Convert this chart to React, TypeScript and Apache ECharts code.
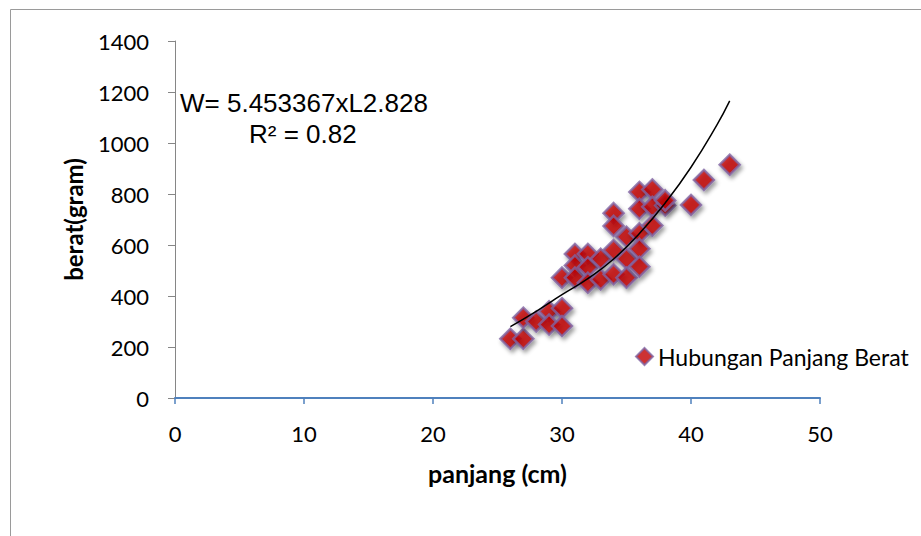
import React, { useEffect, useRef } from "react";
import * as echarts from "echarts";

// Observed data: panjang (cm) vs berat (gram)
const panjang = [26, 27, 27, 28, 29, 29, 30, 30, 30, 31, 31, 31, 32, 32, 32, 33, 33, 34, 34, 34, 34, 35, 35, 35, 36, 36, 36, 36, 36, 37, 37, 37, 38, 38, 40, 41, 43];
const berat = [232, 232, 315, 300, 340, 288, 352, 282, 472, 565, 520, 472, 565, 513, 452, 546, 465, 725, 675, 580, 485, 632, 546, 472, 808, 742, 646, 585, 515, 818, 750, 676, 755, 775, 757, 855, 915];

// Trend line
const trendX = [26, 28, 30, 32, 34, 36, 38, 40, 42, 43];
const trendY = [280, 340, 405, 468, 545, 645, 765, 905, 1070, 1165];

const seriesName = "Hubungan Panjang Berat";
const xAxisTitle = "panjang (cm)";
const yAxisTitle = "berat(gram)";
const equationText = "W= 5.453367xL2.828";
const r2Text = "R² = 0.82";

export default function App() {
  const ref = useRef<HTMLDivElement>(null);
  useEffect(() => {
    if (!ref.current) return;
    const chart = echarts.init(ref.current, undefined, { renderer: "svg" });
    const font = "Lato, 'Open Sans', sans-serif";
    chart.setOption({
      animation: false,
      backgroundColor: "#ffffff",
      grid: { left: 175, right: 101, top: 41, bottom: 138 },
      xAxis: {
        type: "value",
        min: 0,
        max: 50,
        interval: 10,
        name: xAxisTitle,
        nameLocation: "middle",
        nameGap: 62,
        nameTextStyle: { fontFamily: font, fontSize: 25, fontWeight: "bold", color: "#000" },
        axisLine: { show: true, onZero: false, lineStyle: { color: "#4F81BD", width: 2 } },
        axisTick: { show: true, length: 6, lineStyle: { color: "#4F81BD", width: 1.5 } },
        axisLabel: { margin: 24, fontFamily: font, fontSize: 22, color: "#000" },
        splitLine: { show: false },
      },
      yAxis: {
        type: "value",
        min: 0,
        max: 1400,
        interval: 200,
        name: yAxisTitle,
        nameLocation: "middle",
        nameGap: 90,
        nameRotate: 90,
        nameTextStyle: { fontFamily: font, fontSize: 24, fontWeight: "bold", color: "#000" },
        axisLine: { show: true, lineStyle: { color: "#868686", width: 1 } },
        axisTick: { show: true, length: 7, lineStyle: { color: "#868686" } },
        axisLabel: {
          margin: 26,
          fontFamily: font,
          fontSize: 22,
          color: "#000",
          formatter: (v: number) => String(v),
        },
        splitLine: { show: false },
      },
      legend: {
        show: true,
        left: 630,
        top: 340,
        itemWidth: 17,
        itemHeight: 17,
        data: [{ name: seriesName, icon: "diamond" }],
        textStyle: { fontFamily: font, fontSize: 23, color: "#000", padding: [0, 0, 0, 0] },
      },
      series: [
        {
          name: seriesName,
          type: "scatter",
          symbol: "diamond",
          symbolSize: 20,
          data: panjang.map((x, i) => [x, berat[i]]),
          itemStyle: {
            color: "#C00000",
            borderColor: "#8064A2",
            borderWidth: 2.5,
            shadowBlur: 4,
            shadowColor: "rgba(0,0,0,0.45)",
            shadowOffsetX: 2,
            shadowOffsetY: 3,
          },
          z: 2,
        },
        {
          name: "trend",
          type: "line",
          data: trendX.map((x, i) => [x, trendY[i]]),
          smooth: true,
          showSymbol: false,
          symbol: "none",
          lineStyle: { color: "#000", width: 1.5 },
          z: 3,
        },
      ],
      graphic: [
        {
          type: "rect",
          shape: { x: 10.5, y: 9.5, width: 930, height: 540 },
          style: { fill: "none", stroke: "#9a9a9a", lineWidth: 1 },
          silent: true,
        },
        {
          type: "text",
          x: 180,
          y: 103,
          style: {
            text: equationText,
            fontFamily: "'Liberation Sans', Arial, sans-serif",
            fontSize: 26,
            fill: "#000",
            verticalAlign: "middle",
            align: "left",
          },
        },
        {
          type: "text",
          x: 249,
          y: 134,
          style: {
            text: r2Text,
            fontFamily: "'Liberation Sans', Arial, sans-serif",
            fontSize: 26,
            fill: "#000",
            verticalAlign: "middle",
            align: "left",
          },
        },
      ],
    });
    return () => chart.dispose();
  }, []);
  return (
    <div
      ref={ref}
      style={{ position: "fixed", left: 0, top: 0, width: 921, height: 536 }}
    />
  );
}
